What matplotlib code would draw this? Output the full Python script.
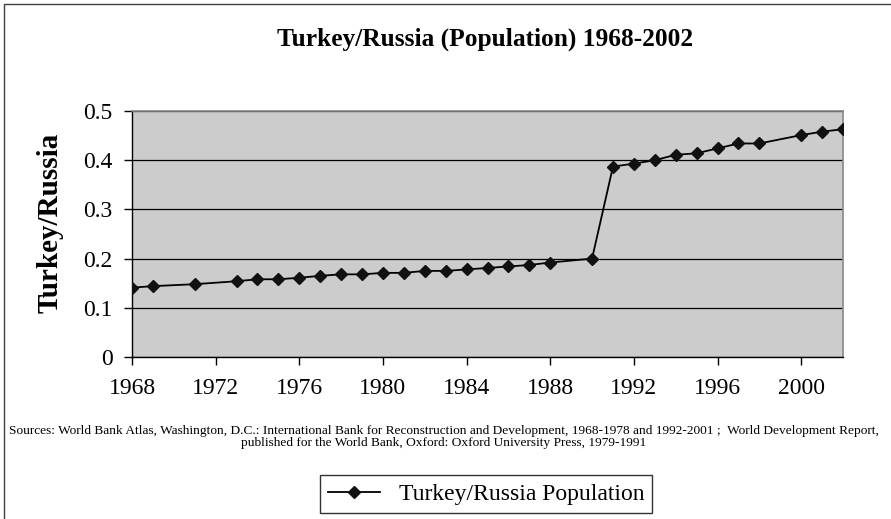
import matplotlib
matplotlib.use("Agg")
import matplotlib.pyplot as plt
from matplotlib.patches import Rectangle

plt.rcParams["font.family"] = ["Liberation Serif", "DejaVu Serif"]

years = [1968, 1969, 1971, 1973, 1974, 1975, 1976, 1977, 1978, 1979, 1980,
         1981, 1982, 1983, 1984, 1985, 1986, 1987, 1988, 1990, 1991, 1992,
         1993, 1994, 1995, 1996, 1997, 1998, 2000, 2001, 2002]
ratio = [0.141, 0.144, 0.148, 0.154, 0.158, 0.158, 0.161, 0.165, 0.168, 0.168,
         0.171, 0.171, 0.175, 0.175, 0.178, 0.181, 0.184, 0.187, 0.192, 0.200,
         0.387, 0.393, 0.400, 0.411, 0.414, 0.424, 0.434, 0.434, 0.451, 0.458,
         0.463]
x_ticks = list(range(1968, 2001, 4))
y_ticks = [0, 0.1, 0.2, 0.3, 0.4, 0.5]

title = "Turkey/Russia (Population) 1968-2002"
y_label = "Turkey/Russia"
series_name = "Turkey/Russia Population"
source = ("Sources: World Bank Atlas, Washington, D.C.: International Bank for "
          "Reconstruction and Development, 1968-1978 and 1992-2001 ;  World "
          "Development Report,\npublished for the World Bank, Oxford: Oxford "
          "University Press, 1979-1991")

W, H = 891, 519
fig = plt.figure(figsize=(W / 100, H / 100), dpi=100)

# outer chart border (only top/left are visible in the reference)
fig.add_artist(Rectangle((4 / W, -0.1), 1.2, 1 - 4 / H + 0.1,
                         transform=fig.transFigure, fill=False,
                         edgecolor="#404040", linewidth=1.0))

ax = fig.add_axes([132 / W, (H - 357) / H, (843 - 132) / W, 246 / H])
ax.set_facecolor("#cccccc")

line, = ax.plot(years, ratio, color="black", linewidth=1.3, marker="D",
                markersize=6, markerfacecolor="#111111",
                markeredgecolor="#111111", zorder=3)

ax.set_xlim(1968, 2002)
ax.set_ylim(0, 0.5)
ax.set_xticks(x_ticks)
ax.set_yticks(y_ticks)
ax.set_yticklabels(["0", "0.1", "0.2", "0.3", "0.4", "0.5"])
ax.yaxis.grid(True, color="black", linewidth=0.9)
ax.set_axisbelow(True)
ax.tick_params(axis="both", labelsize=17, direction="out", length=6,
               width=1, color="black")
ax.tick_params(axis="y", pad=8)
ax.tick_params(axis="x", pad=9)

for side in ["left", "bottom"]:
    ax.spines[side].set_color("black")
    ax.spines[side].set_linewidth(1.0)
for side in ["top", "right"]:
    ax.spines[side].set_color("#888888")
    ax.spines[side].set_linewidth(1.2)

fig.text(485 / W, 1 - 39 / H, title, ha="center", va="center",
         fontsize=18.3, fontweight="bold")
fig.text(50 / W, 1 - 223 / H, y_label, ha="center", va="center",
         rotation=90, fontsize=21, fontweight="bold")
fig.text(444 / W, 1 - 437 / H, source, ha="center", va="center",
         fontsize=9.6, linespacing=1.05)

leg = fig.legend([line], [series_name], loc="center",
                 bbox_to_anchor=(486 / W, 1 - 494 / H), fontsize=17,
                 frameon=True, fancybox=False, edgecolor="black",
                 handlelength=2.2, handletextpad=0.8, borderpad=0.35,
                 borderaxespad=0)
leg.get_frame().set_linewidth(1.0)

fig.savefig("out.png", dpi=100)
